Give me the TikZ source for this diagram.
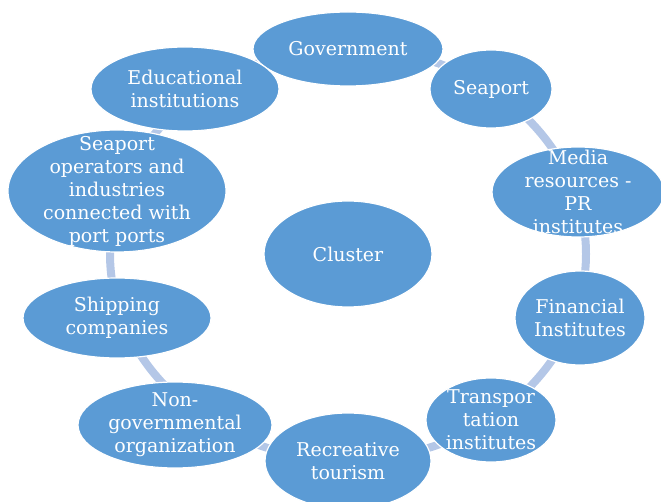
\documentclass[tikz,border=0pt]{standalone}
\usepackage{fontspec}
\setmainfont{DejaVu Serif}
\usetikzlibrary{shapes.geometric,backgrounds}

\definecolor{bubblue}{HTML}{5B9BD5}
\definecolor{ringblue}{HTML}{B4C7E7}

\tikzset{
    bub/.style={ellipse,draw=white,line width=1.2pt,fill=bubblue,inner sep=0pt},
    txt/.style={text=white,align=center,inner sep=0pt,font=\fontsize{19}{23}\selectfont}
}

\begin{document}
\begin{tikzpicture}[x=1pt,y=-1pt]
    \useasboundingbox (0,0) rectangle (661,502);
    \clip (0,0) rectangle (661,502);

    % centre
    \node [bub,minimum width=168,minimum height=106,label={[txt]center:Cluster}] (cluster) at (348,254) {};

    % the ten partners round it
    \node [bub,minimum width=190,minimum height=74,label={[txt]center:Government}] (gov) at (348,49) {};
    \node [bub,minimum width=122,minimum height=78,label={[txt]center:Seaport}] (seaport) at (491,89) {};
    \node [bub,minimum width=172,minimum height=90,label={[txt]center:Media\\resources -\\PR\\institutes}] (media) at (578,192) {};
    \node [bub,minimum width=130,minimum height=94,label={[txt]center:Financial\\Institutes}] (finance) at (580,318) {};
    \node [bub,minimum width=130,minimum height=84,label={[txt]center:Transpor\\tation\\institutes}] (transport) at (491,420) {};
    \node [bub,minimum width=166,minimum height=96,label={[txt]center:Recreative\\tourism}] (tourism) at (348,461) {};
    \node [bub,minimum width=194,minimum height=86,label={[txt]center:Non-\\governmental\\organization}] (ngo) at (175,425) {};
    \node [bub,minimum width=188,minimum height=80,label={[txt]center:Shipping\\companies}] (shipping) at (117,318) {};
    \node [bub,minimum width=218,minimum height=122,label={[txt]center:Seaport\\operators and\\industries\\connected with\\port ports}] (operators) at (117,191) {};
    \node [bub,minimum width=188,minimum height=84,label={[txt]center:Educational\\institutions}] (edu) at (185,89) {};

    % ring behind the bubbles
    \begin{scope}[on background layer]
        \draw [ringblue,line width=8pt] (cluster.center) ellipse [x radius=238pt,y radius=206pt];
    \end{scope}
\end{tikzpicture}
\end{document}
